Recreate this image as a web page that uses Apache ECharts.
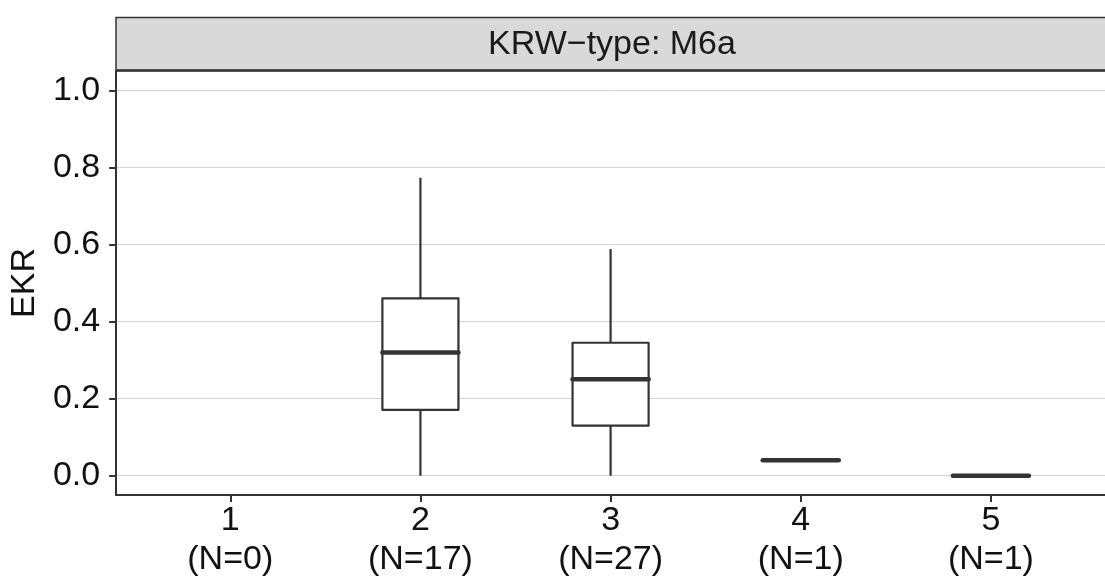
<!DOCTYPE html>
<html>
<head>
<meta charset="utf-8">
<script src="https://cdn.jsdelivr.net/npm/echarts@6/dist/echarts.min.js"></script>
<style>
  html, body { margin: 0; padding: 0; background: #fff; }
  #main { width: 1105px; height: 579px; }
</style>
</head>
<body>
<div id="main"></div>
<script>
// EKR by group, one facet (KRW-type: M6a)
const categories = ['1', '2', '3', '4', '5']
const counts = [0, 17, 27, 1, 1]
const whiskerLow = [null, 0, 0, 0.04, 0]
const q1 = [null, 0.171, 0.130, 0.04, 0]
const median = [null, 0.320, 0.250, 0.04, 0]
const q3 = [null, 0.460, 0.345, 0.04, 0]
const whiskerHigh = [null, 0.773, 0.588, 0.04, 0]
const yTicks = [0, 0.2, 0.4, 0.6, 0.8, 1.0]
const xTicks = [1, 2, 3, 4, 5]

const FONT = "'Liberation Sans', Arial, Helvetica, sans-serif"
const INK = '#333333'

const boxData = []
categories.forEach((c, i) => {
    if (median[i] == null) return
    boxData.push([i + 1, whiskerLow[i], q1[i], median[i], q3[i], whiskerHigh[i]])
})

const chart = echarts.init(document.getElementById('main'))

const option = {
    animation: false,
    backgroundColor: '#ffffff',
    grid: {
        left: 116,
        top: 71,
        bottom: 84,
        width: 993
    },
    xAxis: {
        type: 'value',
        min: 0.4,
        max: 5.6,
        splitLine: { show: false },
        axisLine: { show: true, onZero: false, lineStyle: { color: INK, width: 2 } },
        axisTick: {
            show: true,
            length: 7,
            customValues: xTicks,
            lineStyle: { color: INK, width: 2 }
        },
        axisLabel: {
            customValues: xTicks,
            margin: 6,
            color: '#111',
            fontSize: 34,
            lineHeight: 39,
            fontFamily: FONT,
            formatter: function(v) {
                const i = Math.round(v) - 1
                return categories[i] + '\n(N=' + counts[i] + ')'
            }
        }
    },
    yAxis: {
        type: 'value',
        min: -0.05,
        max: 1.05,
        name: 'EKR',
        nameLocation: 'middle',
        nameRotate: 90,
        nameGap: 72,
        nameTextStyle: { color: '#111', fontSize: 34, fontFamily: FONT },
        axisLine: { show: true, onZero: false, lineStyle: { color: INK, width: 2 } },
        axisTick: {
            show: true,
            length: 7,
            customValues: yTicks,
            lineStyle: { color: INK, width: 2 }
        },
        axisLabel: {
            customValues: yTicks,
            margin: 16,
            color: '#111',
            fontSize: 34,
            fontFamily: FONT,
            formatter: function(v) { return v.toFixed(1) }
        },
        splitLine: {
            show: true,
            lineStyle: { color: '#d4d4d4', width: 1 }
        }
    },
    graphic: [
        {
            type: 'rect',
            shape: { x: 116, y: 17.5, width: 1000, height: 53 },
            style: { fill: '#d9d9d9', stroke: INK, lineWidth: 1.5 },
            z: 10
        },
        {
            type: 'line',
            shape: { x1: 116, y1: 70.5, x2: 1105, y2: 70.5 },
            style: { stroke: INK, lineWidth: 2.5 },
            z: 11
        },
        {
            type: 'text',
            x: 612,
            y: 45,
            style: {
                text: 'KRW\u2212type: M6a',
                fill: '#1a1a1a',
                font: '34px ' + FONT,
                align: 'center',
                verticalAlign: 'middle'
            },
            z: 12
        }
    ],
    series: [{
        type: 'custom',
        data: boxData,
        encode: { x: 0, y: [1, 2, 3, 4, 5] },
        renderItem: function(params, api) {
            const x = api.value(0)
            const low = api.coord([x, api.value(1)])
            const lo = api.coord([x, api.value(2)])
            const mid = api.coord([x, api.value(3)])
            const hi = api.coord([x, api.value(4)])
            const high = api.coord([x, api.value(5)])
            const halfW = api.size([0.4, 0])[0] / 2
            const cx = low[0]
            const lineStyle = { stroke: INK, lineWidth: 2.2, fill: null }
            return {
                type: 'group',
                children: [
                    { type: 'line', shape: { x1: cx, y1: low[1], x2: cx, y2: lo[1] }, style: lineStyle },
                    { type: 'line', shape: { x1: cx, y1: hi[1], x2: cx, y2: high[1] }, style: lineStyle },
                    {
                        type: 'rect',
                        shape: { x: cx - halfW, y: hi[1], width: halfW * 2, height: lo[1] - hi[1] },
                        style: { stroke: INK, lineWidth: 2.2, fill: '#ffffff', lineJoin: 'round' }
                    },
                    {
                        type: 'line',
                        shape: { x1: cx - halfW, y1: mid[1], x2: cx + halfW, y2: mid[1] },
                        style: { stroke: INK, lineWidth: 4.5, lineCap: 'round' }
                    }
                ]
            }
        }
    }]
}

chart.setOption(option)
</script>
</body>
</html>
